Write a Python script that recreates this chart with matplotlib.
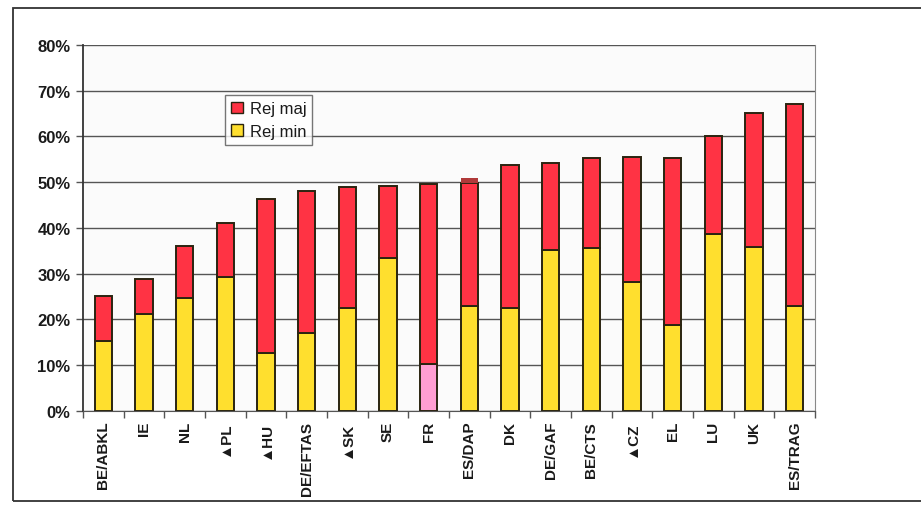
import matplotlib
matplotlib.use("Agg")
import matplotlib.pyplot as plt
from matplotlib.patches import Rectangle, Patch
import numpy as np

categories = ["BE/ABKL", "IE", "NL", "\u25B2PL", "\u25B2HU", "DE/EFTAS", "\u25B2SK", "SE", "FR",
              "ES/DAP", "DK", "DE/GAF", "BE/CTS", "\u25B2CZ", "EL", "LU", "UK", "ES/TRAG"]
# totals (Rej min + Rej maj), in %
total = [25.0, 28.9, 36.0, 41.0, 46.3, 48.1, 49.0, 49.2, 49.6,
         49.9, 53.8, 54.1, 55.3, 55.4, 55.3, 60.2, 65.1, 67.1]
rej_min = [15.2, 21.1, 24.6, 29.2, 12.7, 16.9, 22.4, 33.3, 10.3,
           22.9, 22.4, 35.2, 35.5, 28.1, 18.7, 38.7, 35.8, 22.9]
rej_maj = [t - m for t, m in zip(total, rej_min)]
# small extra segment on top of ES/DAP
extra = [0, 0, 0, 0, 0, 0, 0, 0, 0, 1.1, 0, 0, 0, 0, 0, 0, 0, 0]

yticks = [0, 10, 20, 30, 40, 50, 60, 70, 80]

YELLOW = "#ffdf2e"
PINK = "#ff9ed2"
RED = "#ff3344"
DARKRED = "#b03a3a"
EDGE = "#2a2410"
TXT = "#1a1a1a"

plt.rcParams["font.family"] = ["Liberation Sans", "DejaVu Sans"]

fig = plt.figure(figsize=(9.21, 5.06), dpi=100)
ax = fig.add_axes([83 / 921, 1 - 411.7 / 506, (815 - 83) / 921, (411.7 - 46) / 506])
ax.set_facecolor("#fbfbfb")

x = np.arange(len(categories))
w = 0.42
min_colors = [PINK if c == "FR" else YELLOW for c in categories]
ax.bar(x, rej_min, w, color=min_colors, edgecolor=EDGE, linewidth=1.4, zorder=3)
ax.bar(x, rej_maj, w, bottom=rej_min, color=RED, edgecolor=EDGE, linewidth=1.4, zorder=3)
ex_x = [xi for xi, e in zip(x, extra) if e > 0]
ex_v = [e for e in extra if e > 0]
ex_b = [t for t, e in zip(total, extra) if e > 0]
ax.bar(ex_x, ex_v, w, bottom=ex_b, color=DARKRED, edgecolor=DARKRED, linewidth=0, zorder=3)

ax.set_xlim(-0.5, len(categories) - 0.5)
ax.set_ylim(0, 80)
ax.set_yticks(yticks)
ax.set_yticklabels([f"{v}%" for v in yticks], fontsize=12, fontweight="bold", color=TXT)
ax.yaxis.grid(True, color="#555555", linewidth=1.0, zorder=0)
ax.tick_params(axis="y", length=5, width=1, color="#555555", pad=4)

# category labels centred under bars, ticks at category boundaries
ax.set_xticks(np.arange(len(categories) + 1) - 0.5)
ax.set_xticklabels([])
ax.tick_params(axis="x", length=5, width=1, color="#555555")
for xi, lab in zip(x, categories):
    ax.text(xi, -2.2, lab, rotation=90, ha="center", va="top", fontsize=11,
            fontweight="bold", color=TXT, transform=ax.transData)

ax.spines["top"].set_visible(False)
ax.spines["right"].set_color("#888888")
ax.spines["left"].set_color("#333333")
ax.spines["left"].set_linewidth(1.3)
ax.spines["bottom"].set_color("#555555")

handles = [Patch(facecolor=RED, edgecolor=EDGE, label="Rej maj"),
           Patch(facecolor=YELLOW, edgecolor=EDGE, label="Rej min")]
leg = ax.legend(handles=handles, loc="upper left", bbox_to_anchor=((217 - 83) / 732, (411.7 - 88) / 365.7),
                fontsize=12, frameon=True, fancybox=False, handlelength=0.7,
                handleheight=0.7, handletextpad=0.4, borderpad=0.35, labelspacing=0.45,
                edgecolor="#555555")
leg.get_frame().set_linewidth(1.0)
leg.get_frame().set_facecolor("white")
for t in leg.get_texts():
    t.set_color(TXT)

# outer chart frame
fig.patches.append(Rectangle((13 / 921, 1 - 502 / 506), 1.0, (502 - 9) / 506,
                             transform=fig.transFigure, fill=False,
                             edgecolor="#333333", linewidth=1.3))

fig.savefig("out.png", dpi=100, facecolor="white")
